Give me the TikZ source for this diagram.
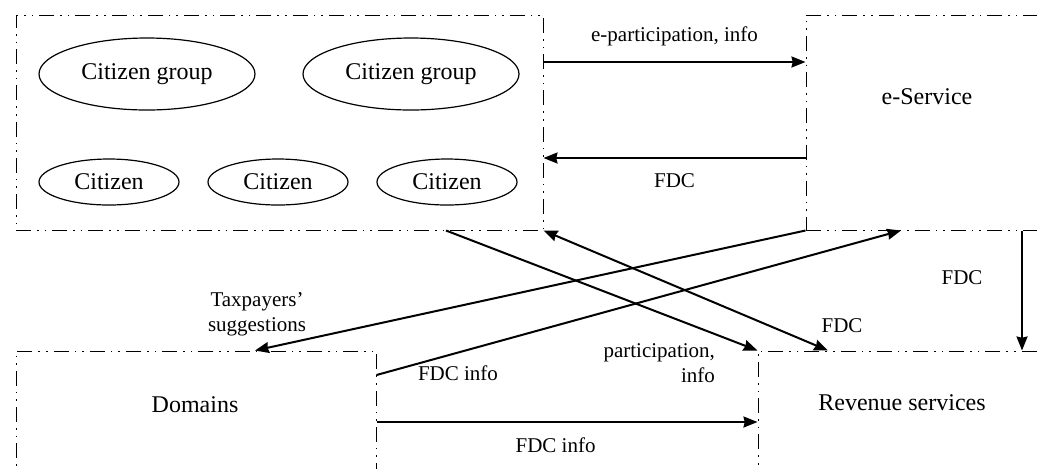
\documentclass[tikz,border=0pt]{standalone}
\usepackage{fontspec}
\setmainfont{Liberation Serif}
\usetikzlibrary{shapes.geometric,arrows.meta}

\begin{document}
\begin{tikzpicture}[x=0.5pt,y=-0.5pt]
    \tikzstyle{every node} = [font=\fontsize{10.5}{12.5}\selectfont]
    \tikzstyle{block} = [draw, rectangle, line width=0.5pt, dash pattern=on 7.5pt off 3pt on 0.8pt off 3pt on 0.8pt off 3pt, inner sep=0pt, minimum height=107.5pt]
    \tikzstyle{lowblock} = [block, minimum height=64.5pt]
    \tikzstyle{group} = [draw, ellipse, semithick, inner sep=0pt, minimum width=108pt, minimum height=36pt, font=\fontsize{12}{14}\selectfont]
    \tikzstyle{person} = [group, minimum width=70pt, minimum height=23pt]
    \tikzstyle{title} = [font=\fontsize{12}{14}\selectfont]
    \tikzstyle{link} = [-{Stealth[length=7pt,width=5.5pt,inset=0.6pt]}, line width=1pt]
    \tikzstyle{twoway} = [{Stealth[length=7pt,width=5.5pt,inset=0.6pt]}-{Stealth[length=7pt,width=5.5pt,inset=0.6pt]}, line width=1pt]

    \clip (0,0) rectangle (1037,468);

    % place nodes
    \node[block, minimum width=263.5pt] (citizens) at (279.5,122.5) {};
    \node[block, minimum width=122pt] (service) at (928,122.5) {};
    \node[lowblock, minimum width=180pt] (domains) at (196,415.5) {};
    \node[lowblock, minimum width=146pt] (revenue) at (904,415.5) {};

    \node[group] (group1) at (147,74) {Citizen group};
    \node[group] (group2) at (411,74) {Citizen group};
    \node[person] (citizen1) at (109,182) {Citizen};
    \node[person] (citizen2) at (278,182) {Citizen};
    \node[person] (citizen3) at (447,182) {Citizen};

    \node[title] (serviceName) at (927,97) {e-Service};
    \node[title] (domainsName) at (195,405) {Domains};
    \node[title] (revenueName) at (902,403) {Revenue services};

    % Connections
    \draw[link] (citizens.east |- 0,62) -- node[above=4pt]{e-participation, info} (service.west |- 0,62);
    \draw[link] (service.west |- 0,158) -- node[below=4pt]{FDC} (citizens.east |- 0,158);
    \draw[link] (citizens.south -| 446,0) -- (revenue.north west);
    \draw[twoway] (citizens.south east) -- (revenue.north -| 828,0);
    \draw[link] (service.south west) -- (domains.north -| 255,0);
    \draw[link] (domains.east |- 0,375) -- (service.south -| 901,0);
    \draw[link] (domains.east |- 0,422) -- node[below=4pt, pos=0.47]{FDC info} (revenue.west |- 0,422);
    \draw[link] (service.south -| 1022,0) -- (revenue.north -| 1022,0);

    % labels of the crossing arrows
    \node[align=center] (taxLabel) at (257,314) {Taxpayers’\\suggestions};
    \node[align=right, anchor=east] (partLabel) at (722,363) {participation,\\info};
    \node (fdcInfoLabel) at (458,373) {FDC info};
    \node (fdcCrossLabel) at (842,326) {FDC};
    \node (fdcDownLabel) at (962,278) {FDC};

  \end{tikzpicture}
\end{document}
